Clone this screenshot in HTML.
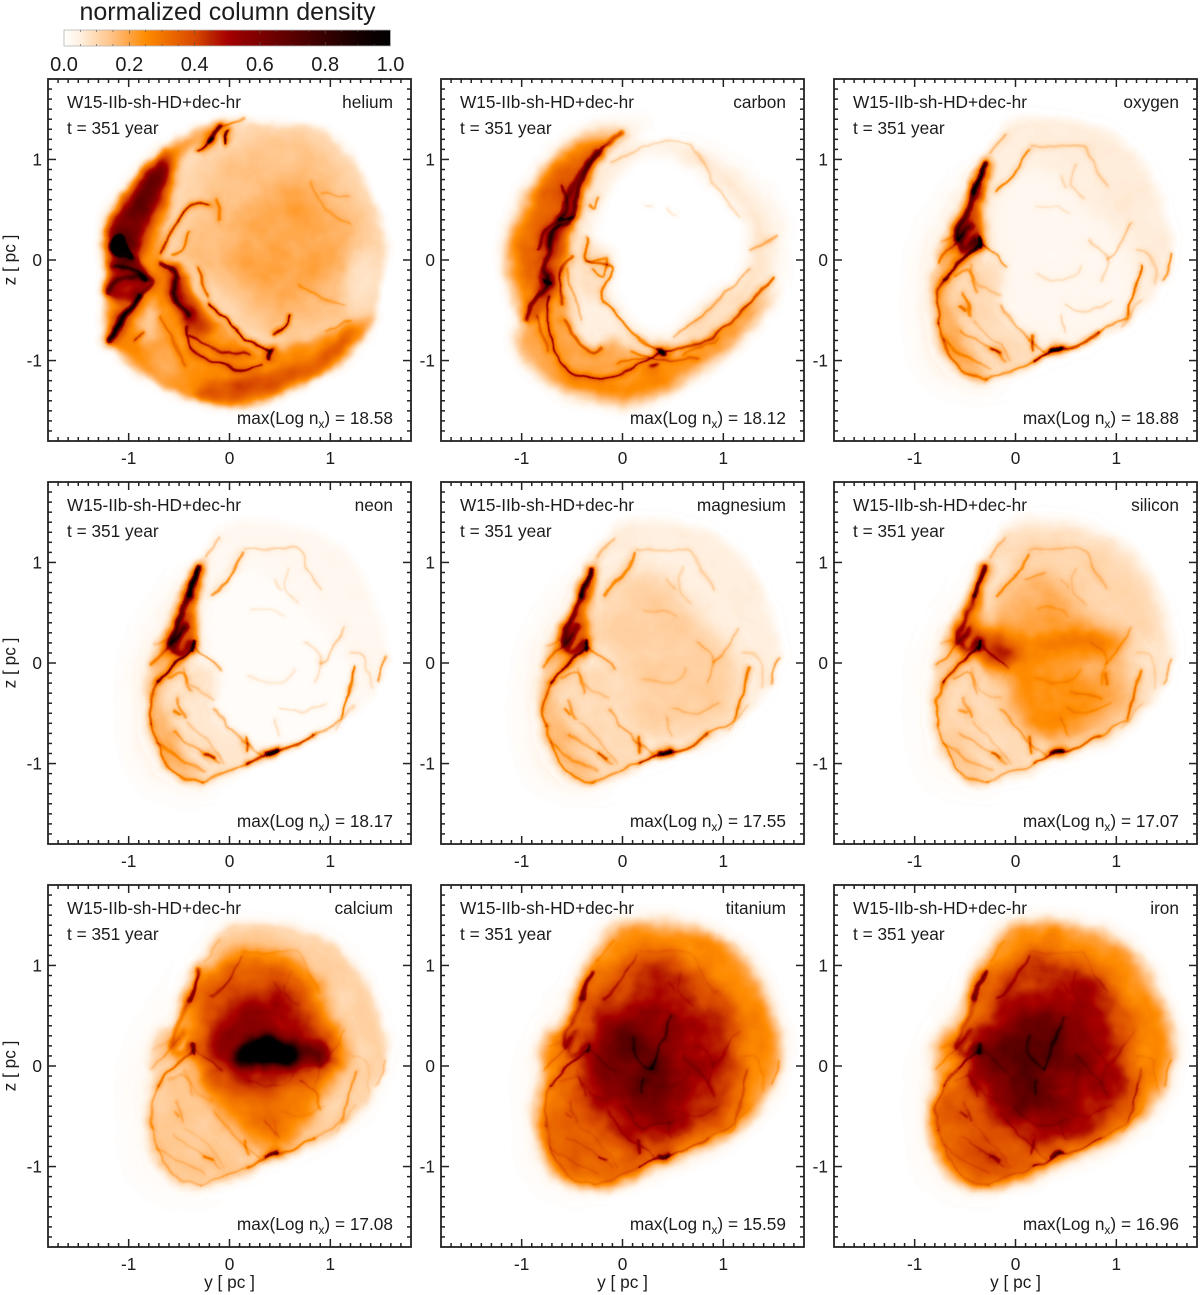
<!DOCTYPE html>
<html lang="en">
<head>
<meta charset="utf-8">
<title>Normalized column density maps</title>
<style>
html,body{margin:0;padding:0;background:#fff;}
svg{display:block;}
text{font-family:"Liberation Sans",sans-serif;fill:#1c1c1c;}
</style>
</head>
<body>
<svg id="figure" xmlns="http://www.w3.org/2000/svg" width="1200" height="1295" viewBox="0 0 1200 1295">
  <defs id="defs"></defs>
  <g id="colorbar">
    <text x="227.5" y="20" font-size="25" text-anchor="middle">normalized column density</text>
  </g>
  <g id="panels"></g>
</svg>
<script>
/* ---------- labels and printed values ---------- */
const elementNames = ['helium','carbon','oxygen','neon','magnesium','silicon','calcium','titanium','iron'];
const maxLogValues = ['18.58','18.12','18.88','18.17','17.55','17.07','17.08','15.59','16.96'];
const modelLabel = 'W15-IIb-sh-HD+dec-hr';
const timeLabel = 't = 351 year';
const axisTickValues = [-1,0,1];
const axisTickLabels = ['-1','0','1'];
const colorbarTickValues = [0,0.2,0.4,0.6,0.8,1];
const colorbarTickLabels = ['0.0','0.2','0.4','0.6','0.8','1.0'];
const colormapStops = ['#ffffff','#fff0e0','#ffd8b0','#ffc080','#ffa443','#ff8c00','#f27500','#e65f00','#d84a00','#bc2500','#a80000','#8f0000','#7e0000','#6a0000','#5a0000','#480000','#360000','#260000','#160000','#0a0000','#000000'];

/* ---------- shared remnant contours, in [y pc, z pc] ---------- */
const shellOutline = [[-.05,1.38],[.25,1.41],[.71,1.35],[1.10,1.15],[1.34,.82],[1.47,.49],[1.55,.16],[1.47,-.14],[1.34,-.40],[1.04,-.67],[.81,-.80],[.45,-.93],[.18,-1.06],[-.18,-1.15],[-.45,-1.16],[-.68,-1.0],[-.79,-.70],[-.81,-.40],[-.76,-.11],[-.78,.09],[-.71,.32],[-.54,.39],[-.45,.69],[-.31,1.02],[-.18,1.21]];
const leftHaze = [[-.3,1.05],[-.62,.72],[-.95,.15],[-1.0,-.5],[-.9,-1.1],[-.5,-1.3],[-.1,-1.25],[-.3,-.9],[-.5,-.4],[-.5,.3]];
const kidneyCavity = [[-.25,.40],[-.12,.76],[.28,.90],[.71,.53],[.97,.24],[1.17,-.09],[1.11,-.46],[.81,-.72],[.41,-.79],[.18,-.72],[-.12,-.46],[-.08,-.06],[-.31,.27]];
const leftRimBand = [[-.28,.96],[-.54,.43],[-.78,-.03],[-.81,-.46],[-.71,-.89],[-.48,-1.15],[-.28,-1.18],[-.45,-.89],[-.64,-.46],[-.64,-.23],[-.35,.14],[-.31,.6]];
const knifeBand = [[-.3,.98],[-.45,.65],[-.62,.3],[-.56,.12],[-.36,.22],[-.33,.6]];
const lowerLeftLobe = [[-.71,-.26],[-.38,-.03],[-.08,-.06],[-.12,-.46],[.18,-.79],[.18,-1.02],[-.28,-1.18],[-.58,-1.05],[-.78,-.72]];
const innerCavity = [[.18,1.12],[.71,.98],[1.04,.62],[1.14,.22],[1.14,-.24],[.91,-.60],[.45,-.80],[.12,-.80],[-.15,-.60],[-.41,-.27],[-.43,.19],[-.28,.65],[-.08,.95]];
const deepCore = [[.18,.62],[.58,.62],[.91,.12],[.71,-.40],[.35,-.67],[-.05,-.57],[-.31,-.14],[-.28,.36]];
const coreCentre = [[-.1,.35],[.25,.4],[.45,.05],[.3,-.4],[0,-.35],[-.2,0]];
const centralBand = [[-.38,.36],[.1,.2],[.5,.26],[1.0,.3],[1.05,.14],[.6,.1],[.15,.04],[-.2,-.12],[-.4,.1]];
const siliconLeftClot = [[-.38,.32],[-.1,.22],[-.02,.08],[-.2,-.08],[-.38,.08]];
const siliconLowerGlow = [[.1,-.1],[.5,-.1],[.8,-.3],[.5,-.72],[.2,-.65],[-.05,-.4]];
const siliconUpperHaze = [[-.1,1.2],[.5,1.25],[1.1,.95],[1.45,.45],[1.2,.2],[.6,.7],[.1,.95]];
const calciumHalo = [[.23,1.15],[.76,1.0],[.96,.55],[1.13,.12],[.92,-.24],[.5,-.83],[-.1,-.43],[-.36,.16],[-.4,.68],[-.03,1.08]];
const calciumUpper = [[-.3,.15],[-.2,.75],[.3,1.0],[.7,.8],[.5,.2],[0,.1]];
const calciumMid = [[.05,.55],[.5,.7],[.95,.3],[1.1,.05],[.7,-.1],[.3,-.25],[-.1,-.15],[-.25,.15]];
const calciumCore = [[.07,.12],[.23,.24],[.4,.3],[.5,.18],[.66,.14],[.6,.06],[.30,0],[.10,.03]];
const calciumArm = [[.45,.22],[.89,.21],[1.04,.06],[.89,.02],[.45,.05]];

/* ---------- filaments common to the inner-element maps: [density, thickness pc, points] ---------- */
const shellFilaments = [
 [.85,.045,[[-.30,.95],[-.35,.82],[-.41,.67]]],
 [.45,.05,[[-.41,.67],[-.47,.5],[-.55,.33],[-.59,.2]]],
 [.35,.07,[[-.45,.35],[-.55,.18],[-.5,.1],[-.38,.2]]],
 [.75,.03,[[-.35,.22],[-.36,.13]]],
 [.5,.025,[[-.36,.15],[-.54,0],[-.71,-.19]]],
 [.3,.02,[[-.71,-.19],[-.78,-.39],[-.76,-.62]]],
 [.22,.02,[[-.76,-.62],[-.68,-.89],[-.51,-1.12],[-.28,-1.18]]],
 [.2,.02,[[-.28,-1.18],[-.02,-1.08],[.18,-1.0]]],
 [.5,.025,[[.18,-1.0],[.31,-.94],[.45,-.88]]],
 [.85,.035,[[.36,-.9],[.46,-.87]]],
 [.42,.022,[[.45,-.88],[.61,-.85],[.84,-.72]]],
 [.2,.02,[[.84,-.72],[1.11,-.56]]],
 [.33,.02,[[1.11,-.54],[1.17,-.36],[1.25,-.05]]],
 [.22,.03,[[-.18,.68],[-.02,.85],[.13,1.09]]],
 [.1,.02,[[.15,1.13],[.41,1.13],[.68,1.13],[.78,.93],[.91,.73]]],
 [.2,.02,[[-.35,.17],[-.2,.05],[-.08,-.06]]],
 [.15,.02,[[-.15,-.46],[-.02,-.62],[.15,-.79],[.31,-.92]]],
 [.3,.025,[[.16,-.74],[.17,-.88]]],
 [.22,.025,[[1.55,.05],[1.47,-.19]]],
 [.2,.02,[[-.78,-.03],[-.62,.14],[-.5,.28]]],
 [.3,.03,[[-.24,-.9],[-.16,-.94]]],
 [.06,.02,[[.21,.53],[.41,.53],[.54,.47]]],
 [.07,.02,[[.45,.83],[.51,.73]]],
 [.18,.03,[[-.55,-.46],[-.5,-.5]]],
 [.1,.015,[[-.74,.18],[-.62,.24]]],
 [.08,.02,[[-.45,-.05],[-.35,-.25],[-.15,-.35]]],
 [.08,.02,[[.5,-.45],[.7,-.5],[.95,-.4]]],
 [.08,.02,[[-.42,-.6],[-.2,-.8],[-.05,-1.0]]],
 [.12,.02,[[.9,0],[1.0,.1],[1.15,.35]]],
 [.12,.03,[[-.6,-.15],[-.45,-.1],[-.38,-.3]]],
 [.14,.03,[[-.52,-.35],[-.45,-.55]]],
 [.1,.03,[[-.55,-.7],[-.3,-.85],[-.1,-1.0]]],
 [.1,.02,[[.45,-.55],[.5,-.72]]],
 [.07,.02,[[.6,.95],[.55,.75],[.68,.6]]],
 [.07,.03,[[1.2,.1],[1.35,.05],[1.4,-.25]]],
 [.08,.025,[[1.25,-.4],[1.05,-.66]]],
 [.12,.03,[[-.25,1.05],[-.1,1.25]]],
 [.08,.025,[[.75,.2],[.9,.05],[.85,-.2]]],
 [.06,.025,[[.2,-.15],[.5,-.2],[.65,-.05]]],
 [.1,.03,[[-.72,-.8],[-.5,-.95],[-.25,-1.08]]]
];
const filamentGains = [0,0,1,1,.85,.72,.42,.42,.42];

/* ---------- per-element maps: regions [density, softness pc, contour] ---------- */
const heliumOutline = [[.10,1.37],[.82,1.32],[1.16,1.09],[1.36,.73],[1.55,.23],[1.51,-.19],[1.42,-.59],[1.09,-1.01],[.69,-1.21],[.10,-1.45],[-.30,-1.38],[-.72,-1.21],[-.92,-.92],[-1.19,-.79],[-1.12,-.46],[-1.24,-.32],[-1.17,.40],[-.99,.77],[-.62,1.09],[-.13,1.36]];
const heliumRim = [[-.13,1.32],[-.53,.96],[-.63,.40],[-.69,-.03],[-.53,-.10],[-.13,-.59],[.36,-.89],[1.29,-.59],[1.45,-.53],[1.09,-1.02],[.10,-1.45],[-.73,-1.22],[-1.19,-.79],[-1.22,-.33],[-1.17,.40],[-.63,1.09]];
const heliumLobe = [[-.2,.84],[.30,1.19],[.86,1.13],[1.35,.46],[1.35,-.42],[.95,-.66],[.45,-.8],[.1,-.46],[-.2,-.16],[-.53,.07],[-.36,.40]];
const heliumCenter = [[.05,.3],[.5,.75],[1.0,.5],[1.05,-.05],[.55,-.4],[.1,-.2]];
const heliumRightPale = [[1.2,.0],[1.42,.1],[1.42,-.35],[1.15,-.5]];
const heliumBand = [[-.6,1.05],[-.75,.98],[-1.0,.65],[-1.18,.40],[-1.18,.05],[-.95,-.02],[-.8,.37],[-.6,.83]];
const heliumKnot = [[-1.09,.27],[-1.17,.15],[-1.14,.07],[-.97,0],[-1.02,.13]];
const heliumClot = [[-1.2,-.02],[-.9,0],[-.8,-.25],[-1.0,-.4],[-1.2,-.35]];
const heliumTangle = [[-.6,-.05],[-.45,-.1],[-.3,-.5],[-.15,-.65],[-.35,-.75],[-.55,-.45]];
const heliumBottom = [[-.2,-1.22],[.3,-1.15],[.85,-.98],[1.25,-.65],[1.1,-.95],[.7,-1.2],[.1,-1.42],[-.3,-1.35]];
const heliumPaleWedge = [[-.9,-.3],[-.78,-.35],[-.72,-.7],[-.86,-.85]];
const heliumLowerLeft = [[-.85,-.75],[-.6,-.6],[-.45,-.85],[-.45,-1.2],[-.72,-1.15]];
const heliumRegions = [[.1,.04,heliumOutline],[.25,.05,heliumRim],[.21,.06,heliumLowerLeft],[.145,.08,heliumLobe],[.12,.05,heliumPaleWedge],[.08,.06,heliumRightPale]];
const heliumGlows = [[.05,.14,heliumCenter],[.42,.07,heliumBand],[.75,.015,heliumKnot],[.22,.03,heliumClot],[.16,.04,heliumTangle],[.13,.05,heliumBottom]];
const heliumFilaments = [
 [.8,.05,[[-1.19,-.79],[-1.09,-.62],[-.89,-.36]]],
 [.3,.04,[[-.89,-.36],[-.76,-.19],[-1.09,-.19],[-1.19,-.33]]],
 [.4,.04,[[-1.15,-.05],[-1.0,-.1],[-.82,-.18]]],
 [.45,.04,[[-.69,-.03],[-.53,-.16],[-.55,-.36],[-.40,-.56]]],
 [.38,.025,[[-.68,.07],[-.58,.27],[-.40,.53],[-.20,.56]]],
 [.45,.025,[[-.2,-.43],[-.03,-.59],[.17,-.79],[.40,-.89]]],
 [.65,.04,[[.41,-.89],[.40,-.97]]],
 [.32,.02,[[-.43,-.66],[-.36,-.92],[.13,-1.09],[.33,-1.05]]],
 [.5,.02,[[.43,-.72],[.56,-.67],[.59,-.56]]],
 [.65,.04,[[-.2,1.19],[-.1,1.34]]],
 [.65,.025,[[-.02,1.29],[-.03,1.14]]],
 [.4,.025,[[-.3,1.08],[-.17,1.22]]],
 [.2,.02,[[-.1,1.34],[.15,1.4]]],
 [.25,.025,[[-.31,-.1],[-.2,-.36]]],
 [.07,.02,[[.92,.66],[1.19,.63]]],
 [.1,.02,[[.95,-.7],[1.22,-.6]]],
 [.25,.02,[[-.95,-.8],[-.85,-.72]]],
 [.14,.03,[[-.13,.6],[-.1,.4]]],
 [.22,.03,[[-.4,-.75],[-.1,-.9],[.2,-.95]]],
 [.12,.025,[[-.7,-.55],[-.55,-.8],[-.45,-1.05]]],
 [.2,.02,[[-.58,.05],[-.46,.12],[-.4,.28]]],
 [.08,.02,[[.7,-.25],[.95,-.4],[1.15,-.45]]],
 [.06,.02,[[.8,.8],[.95,.5],[1.2,.35]]]
];

const carbonOutline = [[-.12,1.36],[.21,1.37],[.14,1.13],[.67,1.14],[1.07,.96],[1.53,.5],[1.56,0],[1.5,-.36],[1.2,-.72],[.67,-1.15],[.08,-1.42],[-.39,-1.35],[-.72,-1.22],[-1.05,-.85],[-1.0,-.59],[-1.15,.07],[-.95,.66],[-.52,1.16]];
const carbonRim = [[-.12,1.3],[-.42,.8],[-.52,.2],[-.55,-.4],[-.1,-.75],[.45,-.92],[1.0,-.6],[1.5,-.3],[1.2,-.72],[.67,-1.15],[.08,-1.42],[-.39,-1.35],[-.72,-1.22],[-1.05,-.85],[-1.0,-.59],[-1.15,.07],[-.95,.66],[-.52,1.16]];
const carbonMid = [[-.35,.4],[-.12,.9],[.3,1.1],[.75,1.0],[1.3,.5],[1.4,-.1],[1.1,-.55],[.5,-.88],[.0,-.78],[-.35,-.4],[-.5,0]];
const carbonHole = [[-.32,.33],[-.12,.8],[.24,1.09],[.67,.96],[1.2,.47],[1.23,-.1],[.8,-.46],[.41,-.79],[.08,-.66],[-.16,-.26],[-.09,-.03],[-.32,.2]];
const carbonBand = [[-.25,1.12],[-.6,1.02],[-.9,.55],[-1.05,.07],[-.95,-.46],[-.75,-.2],[-.42,.73]];
const carbonDarkBand = [[-.15,1.2],[-.42,.85],[-.62,.35],[-.85,-.3],[-.9,-.6],[-.7,-.4],[-.55,.1],[-.35,.7]];
const carbonBottom = [[-.65,-1.12],[.08,-1.22],[.8,-.88],[1.26,-.55],[1.2,-.72],[.67,-1.14],[.08,-1.38],[-.5,-1.28]];
const carbonWindow = [[-.48,-.45],[-.2,-.42],[-.05,-.72],[-.3,-.9],[-.5,-.72]];
const carbonRegions = [[.05,.08,carbonOutline],[.2,.07,carbonRim],[.09,.07,carbonMid],[.05,.06,carbonWindow],[0,.07,carbonHole]];
const carbonGlows = [[.14,.09,carbonBand],[.14,.04,carbonDarkBand],[.08,.08,carbonBottom]];
const carbonFilaments = [
 [.35,.04,[[-.01,1.26],[-.22,1.09],[-.42,.76],[-.52,.4],[-.68,.3],[-.77,-.03],[-.75,-.23],[-.9,-.43],[-.95,-.59]]],
 [.25,.05,[[-.25,1.09],[-.49,.73],[-.62,.4],[-.75,.14]]],
 [.5,.03,[[-.78,-.2],[-.72,-.23]]],
 [.3,.025,[[-.73,-.36],[-.72,-.76],[-.55,-1.09],[-.22,-1.18],[.08,-1.09],[.41,-.9],[.74,-.85],[1.07,-.62],[1.3,-.39],[1.5,-.16]]],
 [.8,.045,[[.39,-.88],[.42,-.93]]],
 [.3,.04,[[.27,-1.07],[.33,-1.05]]],
 [.28,.02,[[-.35,.23],[-.35,0],[-.09,-.08],[-.22,-.33],[-.12,-.46],[.01,-.62],[.17,-.79],[.41,-.9]]],
 [.2,.02,[[-.35,-.02],[-.17,0],[-.19,-.16],[-.29,-.1]]],
 [.09,.02,[[-.12,.96],[.24,1.14],[.67,1.14],[.87,.8],[1.17,.43]]],
 [.16,.02,[[1.26,.1],[1.53,.23]]],
 [.22,.03,[[-.58,-.59],[-.35,-.92],[-.22,-.89]]],
 [.14,.02,[[.5,-.75],[.8,-.55],[1.0,-.35],[1.25,-.1]]],
 [.2,.03,[[-.32,.55],[-.27,.5],[-.25,.62]]],
 [.07,.02,[[.22,.54],[.3,.52]]],
 [.07,.02,[[.45,.5],[.55,.46]]],
 [.4,.03,[[-.62,.4],[-.5,.42]]],
 [.12,.03,[[-.55,-.1],[-.48,-.35],[-.4,-.6]]],
 [.15,.025,[[.1,-.9],[.4,-1.0],[.75,-.98]]],
 [.2,.025,[[-.6,.75],[-.55,.5],[-.75,.3],[-.85,.1]]],
 [.25,.03,[[-.5,.05],[-.62,-.15],[-.6,-.45]]],
 [.15,.02,[[-.05,-1.02],[.25,-.97]]],
 [.12,.02,[[.6,-.95],[.95,-.78]]],
 [.15,.025,[[-.85,-.55],[-.75,-.9]]]
];

const oxygenRegions = [[.035,.1,leftHaze],[.02,.1,shellOutline],[.055,.04,shellOutline],[.09,.05,lowerLeftLobe],[.15,.05,leftRimBand],[.025,.07,kidneyCavity]];
const oxygenGlows = [[.05,.1,leftRimBand],[.15,.04,knifeBand]];
const neonRegions = [[.03,.1,leftHaze],[.01,.1,shellOutline],[.025,.04,shellOutline],[.07,.05,lowerLeftLobe],[.13,.05,leftRimBand],[.008,.07,kidneyCavity]];
const neonGlows = [[.05,.1,leftRimBand],[.13,.04,knifeBand]];
const magnesiumRegions = [[.03,.1,leftHaze],[.02,.1,shellOutline],[.05,.04,shellOutline],[.09,.05,lowerLeftLobe],[.13,.05,leftRimBand],[.115,.1,kidneyCavity]];
const magnesiumGlows = [[.03,.1,leftRimBand],[.12,.04,knifeBand]];
const siliconRegions = [[.02,.1,leftHaze],[.03,.1,shellOutline],[.07,.05,shellOutline],[.09,.05,lowerLeftLobe],[.12,.05,leftRimBand],[.18,.1,kidneyCavity]];
const siliconGlows = [[.18,.1,centralBand],[.15,.05,siliconLeftClot],[.07,.09,siliconLowerGlow],[.03,.1,siliconUpperHaze],[.09,.04,knifeBand]];
const calciumRegions = [[.02,.12,leftHaze],[.07,.08,shellOutline],[.11,.04,shellOutline],[.13,.06,lowerLeftLobe],[.29,.09,calciumHalo]];
const calciumGlows = [[.1,.1,calciumUpper],[.2,.11,calciumMid],[.62,.05,calciumCore],[.28,.06,calciumArm]];
const titaniumRegions = [[.02,.1,leftHaze],[.13,.06,shellOutline],[.26,.09,shellOutline],[.34,.07,lowerLeftLobe],[.43,.09,innerCavity],[.55,.14,deepCore]];
const titaniumGlows = [[.12,.12,coreCentre]];
const ironRegions = [[.02,.1,leftHaze],[.13,.06,shellOutline],[.26,.09,shellOutline],[.36,.07,lowerLeftLobe],[.46,.09,innerCavity],[.58,.14,deepCore]];
const ironGlows = [[.11,.12,coreCentre]];

const titaniumFilaments = [[.14,.025,[[.12,.29],[.13,.09],[.28,-.04]]],[.2,.03,[[.28,-.04],[.41,.29],[.48,.49]]],[.14,.03,[[.21,-.14],[.2,-.27]]],[.08,.02,[[.6,.1],[.8,-.1],[.9,-.3]]],[.08,.02,[[0,-.4],[.2,-.6],[.5,-.55]]]];
const ironFilaments = [[.14,.025,[[.12,.29],[.13,.09],[.28,-.04]]],[.18,.03,[[.28,-.04],[.41,.29],[.48,.49]]],[.14,.03,[[.21,-.14],[.2,-.27]]],[.07,.02,[[.6,.1],[.8,-.1],[.9,-.3]]],[.07,.02,[[0,-.4],[.2,-.6],[.5,-.55]]]];
const calciumFilaments = [[.1,.02,[[.7,-.15],[.85,-.25],[.9,-.45]]],[.08,.02,[[.35,-.55],[.48,-.68]]]];
const siliconFilaments = [[.14,.02,[[.9,-.1],[.9,-.2]]],[.08,.02,[[.1,.85],[.3,.9]]],[.08,.02,[[.55,-.3],[.85,-.35]]]];
const noFilaments = [];

const panelRegionSets = [heliumRegions,carbonRegions,oxygenRegions,neonRegions,magnesiumRegions,siliconRegions,calciumRegions,titaniumRegions,ironRegions];
const panelGlowSets = [heliumGlows,carbonGlows,oxygenGlows,neonGlows,magnesiumGlows,siliconGlows,calciumGlows,titaniumGlows,ironGlows];
const panelFilamentSets = [heliumFilaments,carbonFilaments,noFilaments,noFilaments,noFilaments,siliconFilaments,calciumFilaments,titaniumFilaments,ironFilaments];

/* ---------- layout ---------- */
const NS = 'http://www.w3.org/2000/svg';
const panelLefts = [48,441,834];
const panelTops = [79,482,885];
const panelW = 363, panelH = 362, axisHalfRange = 1.8;
const defs = document.getElementById('defs');
const panelsRoot = document.getElementById('panels');
const colorbarRoot = document.getElementById('colorbar');
const make = function(tag){ return document.createElementNS(NS, tag); };
const pcToPx = panelW / (2 * axisHalfRange);

function channelTable(offset){
  return colormapStops.map(function(h){ return (parseInt(h.substr(offset,2),16)/255).toFixed(3); }).join(' ');
}
/* colormap filter: gray level = normalized density */
(function(){
  const f = make('filter');
  f.setAttribute('id','density-colormap');
  f.setAttribute('filterUnits','userSpaceOnUse');
  f.setAttribute('x','0'); f.setAttribute('y','0');
  f.setAttribute('width','1200'); f.setAttribute('height','1295');
  f.setAttribute('color-interpolation-filters','sRGB');
  const t = make('feTurbulence');
  t.setAttribute('type','fractalNoise');
  t.setAttribute('baseFrequency','0.05');
  t.setAttribute('numOctaves','2');
  t.setAttribute('seed','7');
  t.setAttribute('result','noise');
  f.appendChild(t);
  const d = make('feDisplacementMap');
  d.setAttribute('in','SourceGraphic');
  d.setAttribute('in2','noise');
  d.setAttribute('scale','8');
  d.setAttribute('xChannelSelector','R');
  d.setAttribute('yChannelSelector','G');
  d.setAttribute('result','warped');
  f.appendChild(d);
  const t2 = make('feTurbulence');
  t2.setAttribute('type','fractalNoise');
  t2.setAttribute('baseFrequency','0.028');
  t2.setAttribute('numOctaves','3');
  t2.setAttribute('seed','21');
  t2.setAttribute('result','noise2');
  f.appendChild(t2);
  const gm = make('feColorMatrix');
  gm.setAttribute('in','noise2');
  gm.setAttribute('type','matrix');
  gm.setAttribute('values','1 0 0 0 0  1 0 0 0 0  1 0 0 0 0  0 0 0 0 1');
  gm.setAttribute('result','grayNoise');
  f.appendChild(gm);
  const mix = make('feComposite');
  mix.setAttribute('in','warped');
  mix.setAttribute('in2','grayNoise');
  mix.setAttribute('operator','arithmetic');
  mix.setAttribute('k1','.4');
  mix.setAttribute('k2','.8');
  mix.setAttribute('k3','0');
  mix.setAttribute('k4','0');
  mix.setAttribute('result','mottled');
  f.appendChild(mix);
  const c = make('feComponentTransfer');
  c.setAttribute('in','mottled');
  [['feFuncR',1],['feFuncG',3],['feFuncB',5]].forEach(function(pair){
    const fn = make(pair[0]);
    fn.setAttribute('type','table');
    fn.setAttribute('tableValues',channelTable(pair[1]));
    c.appendChild(fn);
  });
  f.appendChild(c);
  defs.appendChild(f);
})();

const blurCache = {};
function blurFilter(px){
  const key = px.toFixed(1);
  if(!blurCache[key]){
    const id = 'blur-' + key.replace('.','_');
    const f = make('filter');
    f.setAttribute('id',id);
    f.setAttribute('filterUnits','userSpaceOnUse');
    f.setAttribute('x','0'); f.setAttribute('y','0');
    f.setAttribute('width','1200'); f.setAttribute('height','1295');
    f.setAttribute('color-interpolation-filters','sRGB');
    const b = make('feGaussianBlur');
    b.setAttribute('stdDeviation',key);
    f.appendChild(b);
    defs.appendChild(f);
    blurCache[key] = id;
  }
  return 'url(#' + blurCache[key] + ')';
}
function grayOf(d){
  const g = Math.max(0,Math.min(255,Math.round(d*255)));
  return 'rgb('+g+','+g+','+g+')';
}
function smoothPath(pts, closed){
  const n = pts.length;
  if(n < 3 && !closed) return 'M'+pts[0].join(' ')+'L'+pts[n-1].join(' ');
  const at = function(i){
    if(closed) return pts[(i+n)%n];
    return pts[Math.max(0,Math.min(n-1,i))];
  };
  let s = 'M'+pts[0][0].toFixed(1)+' '+pts[0][1].toFixed(1);
  const last = closed ? n : n-1;
  for(let i=0;i<last;i++){
    const p0=at(i-1),p1=at(i),p2=at(i+1),p3=at(i+2);
    const c1x=p1[0]+(p2[0]-p0[0])/6,c1y=p1[1]+(p2[1]-p0[1])/6;
    const c2x=p2[0]-(p3[0]-p1[0])/6,c2y=p2[1]-(p3[1]-p1[1])/6;
    s+='C'+c1x.toFixed(1)+' '+c1y.toFixed(1)+' '+c2x.toFixed(1)+' '+c2y.toFixed(1)+' '+p2[0].toFixed(1)+' '+p2[1].toFixed(1);
  }
  return closed ? s+'Z' : s;
}
function additive(el){
  el.style.mixBlendMode = 'screen';
  el.style.mixBlendMode = 'plus-lighter';
}

/* ---------- colorbar ---------- */
const barLeft = 64, barRight = 390.5, barTop = 30, barBottom = 46;
const barX = function(v){ return barLeft + v*(barRight-barLeft); };
(function(){
  const g = make('linearGradient');
  g.setAttribute('id','colorbar-gradient');
  colormapStops.forEach(function(c,i){
    const s = make('stop');
    s.setAttribute('offset',(i/(colormapStops.length-1)).toFixed(3));
    s.setAttribute('stop-color',c);
    g.appendChild(s);
  });
  defs.appendChild(g);
  const r = make('rect');
  
  
  r.setAttribute('x',barLeft);
  r.setAttribute('y',barTop);
  r.setAttribute('width',barRight-barLeft);
  r.setAttribute('height',barBottom-barTop);
  r.setAttribute('fill','url(#colorbar-gradient)');
  r.setAttribute('stroke','#b4b4b4');
  r.setAttribute('stroke-width','.8');
  colorbarRoot.appendChild(r);
  for(let i=1;i<20;i++){
    const v = i/20;
    const long = i%4===0;
    [[barTop,barTop+(long?4:2)],[barBottom,barBottom-(long?4:2)]].forEach(function(ends){
      const t = make('line');
      
      
      t.setAttribute('x1',barX(v));
      t.setAttribute('x2',barX(v));
      t.setAttribute('y1',ends[0]);
      t.setAttribute('y2',ends[1]);
      t.setAttribute('stroke','#555');
      t.setAttribute('stroke-width','0.6');
      colorbarRoot.appendChild(t);
    });
  }
  colorbarTickValues.forEach(function(v,i){
    const t = make('text');
    
    
    t.setAttribute('x',barX(v));
    t.setAttribute('y',71);
    t.setAttribute('font-size','20');
    t.setAttribute('text-anchor','middle');
    t.textContent = colorbarTickLabels[i];
    colorbarRoot.appendChild(t);
  });
})();

/* ---------- panels ---------- */
function drawPanel(idx){
  const col = idx%3, row = Math.floor(idx/3);
  const left = panelLefts[col], top = panelTops[row];
  const xAxis = function(y){ return left + (y+axisHalfRange)/(2*axisHalfRange)*panelW; };
  const zAxis = function(z){ return top + (axisHalfRange-z)/(2*axisHalfRange)*panelH; };
  const toPx = function(list){ return list.map(function(p){ return [xAxis(p[0]),zAxis(p[1])]; }); };

  const panel = make('g');
  
  
  panelsRoot.appendChild(panel);

  const clip = make('clipPath');
  clip.setAttribute('id','clip-'+idx);
  const cr = make('rect');
  cr.setAttribute('x',left); cr.setAttribute('y',top);
  cr.setAttribute('width',panelW); cr.setAttribute('height',panelH);
  clip.appendChild(cr);
  defs.appendChild(clip);

  const clipGroup = make('g');
  clipGroup.setAttribute('clip-path','url(#clip-'+idx+')');
  panel.appendChild(clipGroup);
  const map = make('g');
  
  
  map.setAttribute('filter','url(#density-colormap)');
  clipGroup.appendChild(map);

  const bg = make('rect');
  bg.setAttribute('x',left-12); bg.setAttribute('y',top-12);
  bg.setAttribute('width',panelW+24); bg.setAttribute('height',panelH+24);
  bg.setAttribute('fill','#000');
  map.appendChild(bg);

  panelRegionSets[idx].forEach(function(reg){
    const el = make('path');
    
    
    el.setAttribute('d',smoothPath(toPx(reg[2]),true));
    el.setAttribute('fill',grayOf(reg[0]));
    el.setAttribute('filter',blurFilter(reg[1]*pcToPx));
    map.appendChild(el);
  });
  panelGlowSets[idx].forEach(function(reg){
    const el = make('path');
    
    
    el.setAttribute('d',smoothPath(toPx(reg[2]),true));
    el.setAttribute('fill',grayOf(reg[0]));
    el.setAttribute('filter',blurFilter(reg[1]*pcToPx));
    additive(el);
    map.appendChild(el);
  });
  const addFilament = function(fil, gain){
    const w = fil[1]*pcToPx;
    const halo = make('path');
    
    
    halo.setAttribute('d',smoothPath(toPx(fil[2]),false));
    halo.setAttribute('fill','none');
    halo.setAttribute('stroke',grayOf(fil[0]*gain*.3));
    halo.setAttribute('stroke-width',(w*2.6).toFixed(2));
    halo.setAttribute('stroke-linecap','round');
    halo.setAttribute('stroke-linejoin','round');
    halo.setAttribute('filter',blurFilter(Math.max(1.5,w)));
    additive(halo);
    map.appendChild(halo);
    const el = make('path');
    
    
    el.setAttribute('d',smoothPath(toPx(fil[2]),false));
    el.setAttribute('fill','none');
    el.setAttribute('stroke',grayOf(fil[0]*gain*.8));
    el.setAttribute('stroke-width',(w*.8).toFixed(2));
    el.setAttribute('stroke-linecap','round');
    el.setAttribute('stroke-linejoin','round');
    el.setAttribute('filter',blurFilter(Math.max(.7,w*.3)));
    additive(el);
    map.appendChild(el);
  };
  if(filamentGains[idx] > 0){
    shellFilaments.forEach(function(fil){ addFilament(fil, filamentGains[idx]); });
  }
  panelFilamentSets[idx].forEach(function(fil){ addFilament(fil, 1); });

  /* frame */
  const frame = make('rect');
  
  
  frame.setAttribute('x',left);
  frame.setAttribute('y',top);
  frame.setAttribute('width',panelW);
  frame.setAttribute('height',panelH);
  frame.setAttribute('fill','none');
  frame.setAttribute('stroke','#222');
  frame.setAttribute('stroke-width','1.8');
  panel.appendChild(frame);

  /* ticks */
  for(let k=-18;k<=18;k++){
    const v = k/10;
    const major = k%10===0;
    const len = major ? 8 : 4;
    if(Math.abs(k)===18) continue;
    [[top,top+len],[top+panelH,top+panelH-len]].forEach(function(e){
      const t = make('line');
      
      
      t.setAttribute('x1',xAxis(v)); t.setAttribute('x2',xAxis(v));
      t.setAttribute('y1',e[0]); t.setAttribute('y2',e[1]);
      t.setAttribute('stroke','#222');
      t.setAttribute('stroke-width','1.5');
      panel.appendChild(t);
    });
    [[left,left+len],[left+panelW,left+panelW-len]].forEach(function(e){
      const t = make('line');
      
      
      t.setAttribute('y1',zAxis(v)); t.setAttribute('y2',zAxis(v));
      t.setAttribute('x1',e[0]); t.setAttribute('x2',e[1]);
      t.setAttribute('stroke','#222');
      t.setAttribute('stroke-width','1.5');
      panel.appendChild(t);
    });
  }
  axisTickValues.forEach(function(v,i){
    const tx = make('text');
    
    
    tx.setAttribute('x',xAxis(v));
    tx.setAttribute('y',top+panelH+23);
    tx.setAttribute('font-size','17.25');
    tx.setAttribute('text-anchor','middle');
    tx.textContent = axisTickLabels[i];
    panel.appendChild(tx);
    const ty = make('text');
    
    
    ty.setAttribute('x',left-6);
    ty.setAttribute('y',zAxis(v)+6);
    ty.setAttribute('font-size','17.25');
    ty.setAttribute('text-anchor','end');
    ty.textContent = axisTickLabels[i];
    panel.appendChild(ty);
  });

  /* annotations */
  const model = make('text');
  
  
  model.setAttribute('x',left+19);
  model.setAttribute('y',top+29);
  model.setAttribute('font-size','17.25');
  model.textContent = modelLabel;
  panel.appendChild(model);

  const time = make('text');
  
  
  time.setAttribute('x',left+19);
  time.setAttribute('y',top+55);
  time.setAttribute('font-size','17.25');
  time.textContent = timeLabel;
  panel.appendChild(time);

  const elementLabel = make('text');
  
  
  elementLabel.setAttribute('x',left+345);
  elementLabel.setAttribute('y',top+29);
  elementLabel.setAttribute('font-size','17.25');
  elementLabel.setAttribute('text-anchor','end');
  elementLabel.textContent = elementNames[idx];
  panel.appendChild(elementLabel);

  const maxText = make('text');
  
  
  maxText.setAttribute('x',left+345);
  maxText.setAttribute('y',top+345);
  maxText.setAttribute('font-size','17.25');
  maxText.setAttribute('text-anchor','end');
  const a = make('tspan'); a.textContent = 'max(Log n';
  const b = make('tspan'); b.setAttribute('font-size','12'); b.setAttribute('dy','4'); b.textContent = 'x';
  const c = make('tspan'); c.setAttribute('dy','-4'); c.textContent = ') = ' + maxLogValues[idx];
  maxText.appendChild(a); maxText.appendChild(b); maxText.appendChild(c);
  panel.appendChild(maxText);

  if(col===0){
    const zt = make('text');
    
    
    zt.setAttribute('transform','translate(15.5,'+zAxis(0)+') rotate(-90)');
    zt.setAttribute('font-size','17.25');
    zt.setAttribute('text-anchor','middle');
    zt.textContent = 'z [ pc ]';
    panel.appendChild(zt);
  }
  if(row===2){
    const yt = make('text');
    
    
    yt.setAttribute('x',xAxis(0));
    yt.setAttribute('y',1288);
    yt.setAttribute('font-size','17.25');
    yt.setAttribute('text-anchor','middle');
    yt.textContent = 'y [ pc ]';
    panel.appendChild(yt);
  }
}
elementNames.forEach(function(_,i){ drawPanel(i); });
</script>
</body>
</html>
